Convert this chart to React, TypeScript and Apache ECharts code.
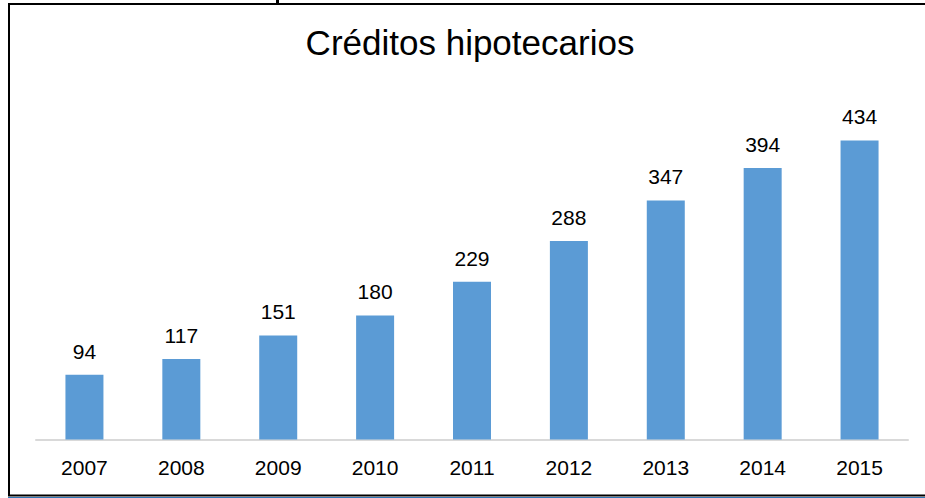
import React, { useEffect, useRef } from "react";
import * as echarts from "echarts";

const years = ["2007", "2008", "2009", "2010", "2011", "2012", "2013", "2014", "2015"];
const credits = [94, 117, 151, 180, 229, 288, 347, 394, 434];
const titleText = "Créditos hipotecarios";

const FONT = "'Liberation Sans', Arial, sans-serif";

export default function App() {
  const ref = useRef<HTMLDivElement>(null);
  useEffect(() => {
    if (!ref.current) return;
    const chart = echarts.init(ref.current, undefined, { renderer: "svg" });
    chart.setOption({
      animation: false,
      backgroundColor: "#ffffff",
      grid: { left: 36, right: 17, top: 95, bottom: 58.5 },
      xAxis: {
        type: "category",
        data: years,
        axisLine: { show: true, lineStyle: { color: "#d9d9d9", width: 2 } },
        axisTick: { show: false },
        axisLabel: {
          color: "#000000",
          fontSize: 21,
          fontFamily: FONT,
          margin: 17,
        },
      },
      yAxis: {
        type: "value",
        min: 0,
        max: 500,
        show: false,
        splitLine: { show: false },
      },
      series: [
        {
          type: "bar",
          data: credits,
          barWidth: 38,
          itemStyle: { color: "#5b9bd5" },
          label: {
            show: true,
            position: "top",
            distance: 13,
            color: "#000000",
            fontSize: 21,
            fontFamily: FONT,
          },
        },
      ],
      graphic: [
        {
          type: "text",
          x: 470,
          y: 42.5,
          style: {
            text: titleText,
            fill: "#000000",
            fontSize: 35,
            fontFamily: FONT,
            textAlign: "center",
            textVerticalAlign: "middle",
          },
        },
        { type: "line", shape: { x1: 8, y1: 4, x2: 925, y2: 4 }, style: { stroke: "#000000", lineWidth: 2 } },
        { type: "line", shape: { x1: 9, y1: 3, x2: 9, y2: 496 }, style: { stroke: "#000000", lineWidth: 2 } },
        { type: "line", shape: { x1: 8, y1: 495.5, x2: 925, y2: 495.5 }, style: { stroke: "#000000", lineWidth: 2 } },
        { type: "line", shape: { x1: 8, y1: 497.5, x2: 925, y2: 497.5 }, style: { stroke: "#2e75b6", lineWidth: 1 } },
        { type: "rect", shape: { x: 276, y: 0, width: 3, height: 4 }, style: { fill: "#000000" } },
      ],
    });
    return () => chart.dispose();
  }, []);
  return (
    <div
      ref={ref}
      style={{ position: "fixed", left: 0, top: 0, width: 925, height: 498 }}
    />
  );
}
